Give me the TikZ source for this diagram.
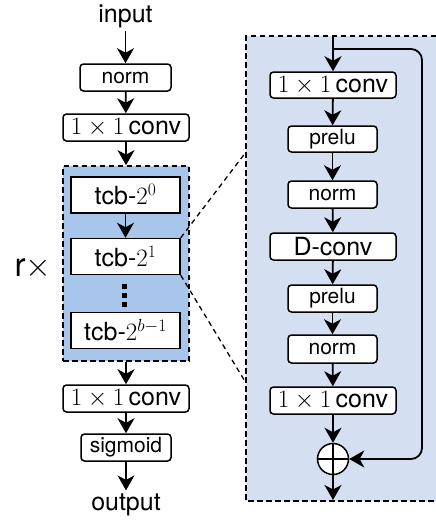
\RequirePackage{fix-cm}
\documentclass[tikz,border=0pt]{standalone}
\usepackage{fontspec}
\setmainfont{TeX Gyre Heros}
\usetikzlibrary{arrows.meta}
\definecolor{stackfill}{RGB}{168,197,235}
\definecolor{panelfill}{RGB}{212,223,242}
\tikzset{
  bigtxt/.style={font=\fontsize{25}{30}\selectfont},
  smalltxt/.style={font=\fontsize{21}{25}\selectfont},
  rbox/.style={draw, fill=white, rounded corners=3.5pt, line width=1.5pt, inner sep=0pt, minimum height=27pt},
  sbox/.style={draw, fill=white, line width=1.5pt, inner sep=0pt, minimum width=109pt, minimum height=36pt, bigtxt},
  arr/.style={line width=1.8pt, -{Stealth[length=15pt, width=17pt, inset=4.5pt]}},
  zoomline/.style={line width=1.3pt, dash pattern=on 5pt off 4pt},
  frame/.style={line width=1.7pt, dash pattern=on 5.5pt off 3.5pt},
}
\begin{document}
\begin{tikzpicture}[x=1pt, y=-1pt]
\useasboundingbox (0,0) rectangle (436,523);

% ---------- expanded temporal block (right panel) ----------
\fill[panelfill] (246,36) rectangle (436,501);
\draw[frame] (436,36) -- (246,36) -- (246,501) -- (436,501);

% ---------- outer network (left column) ----------
\node[bigtxt] (in) at (125.5,16) {input};
\node[rbox, smalltxt, minimum width=91pt] (norm) at (125.5,77.5) {norm};
\node[rbox, bigtxt, minimum width=126pt] (conva) at (126,127.5) {$1\times1$\,conv};

\node[draw, frame, fill=stackfill, minimum width=126pt, minimum height=195pt, inner sep=0pt] (stack) at (126,263.5) {};
\node[sbox] (tcb0) at (125.5,195) {tcb-$2^0$};
\node[sbox] (tcb1) at (125.5,256.5) {tcb-$2^1$};
\node[sbox] (tcbn) at (125.5,330.5) {tcb-$2^{b-1}$};
\node[font=\fontsize{33}{38}\selectfont] (rep) at (33,268) {r$\times$};

% vertical ellipsis between the blocks
\foreach \yy in {286.5,295.5,304.5}
  \fill (121.5,\yy-2.5) rectangle (126.5,\yy+2.5);

\node[rbox, bigtxt, minimum width=126pt] (convb) at (126,398.5) {$1\times1$\,conv};
\node[rbox, smalltxt, minimum width=90pt] (sig) at (126,447.5) {sigmoid};
\node[bigtxt] (out) at (126,505) {output};

\draw[arr] (in) -- (norm);
\draw[arr] (norm) -- (conva);
\draw[arr] (conva) -- (stack);
\draw[arr] (tcb0) -- (tcb1);
\draw[arr] (stack) -- (convb);
\draw[arr] (convb) -- (sig);
\draw[arr] (sig) -- (out);

% zoom guides
\coordinate (zt) at (246,152);
\coordinate (zb) at (246,383);
\draw[zoomline] (tcb1.north east) -- (zt);
\draw[zoomline] (tcb1.south east) -- (zb);

% ---------- block internals ----------
\coordinate (bin) at (333,36);
\coordinate (split) at (333,49);
\node[rbox, bigtxt, minimum width=126pt, minimum height=26pt] (c1) at (333,85) {$1\times1$\,conv};
\node[rbox, smalltxt, minimum width=89pt, minimum height=26pt] (p1) at (332.5,139) {prelu};
\node[rbox, smalltxt, minimum width=89pt] (n1) at (332.5,194.5) {norm};
\node[rbox, bigtxt, minimum width=126pt] (dc) at (333,246.5) {D-conv};
\node[rbox, smalltxt, minimum width=89pt] (p2) at (332.5,298.5) {prelu};
\node[rbox, smalltxt, minimum width=89pt, minimum height=28pt] (n2) at (332.5,349) {norm};
\node[rbox, bigtxt, minimum width=126pt] (c2) at (333,400.5) {$1\times1$\,conv};
\node[draw, circle, fill=white, line width=1.5pt, minimum size=31pt, inner sep=0pt] (sum) at (333,459) {};
\draw[line width=1.5pt] (sum.north) -- (sum.south) (sum.west) -- (sum.east);
\coordinate (bout) at (333,500);

\draw[arr] (bin) -- (c1);
\draw[arr] (c1) -- (p1);
\draw[arr] (p1) -- (n1);
\draw[arr] (n1) -- (dc);
\draw[arr] (dc) -- (p2);
\draw[arr] (p2) -- (n2);
\draw[arr] (n2) -- (c2);
\draw[arr] (c2) -- (sum);
\draw[arr] (sum) -- (bout);
\draw[arr, rounded corners=11pt] (split) -- (422,49) -- (422,459) -- (sum.east);
\end{tikzpicture}
\end{document}
